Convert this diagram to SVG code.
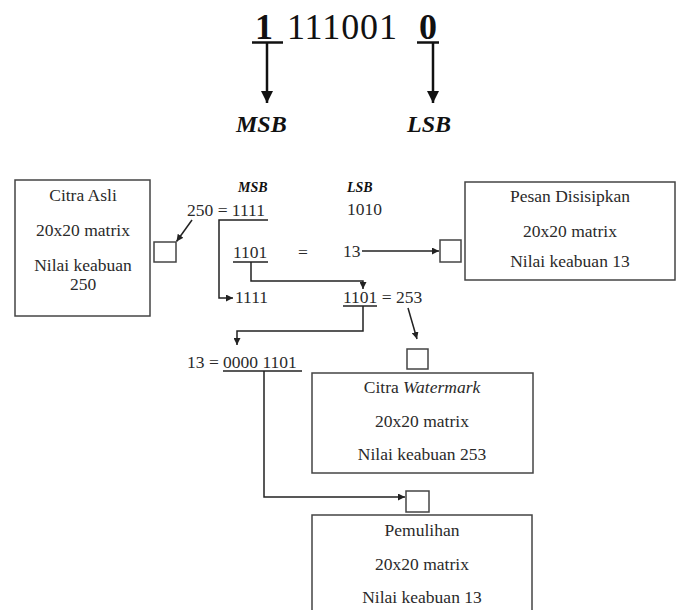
<svg xmlns="http://www.w3.org/2000/svg" width="677" height="610" viewBox="0 0 677 610">
<defs>
<style>
.t{font-family:"Liberation Serif","Times New Roman",serif;font-size:17.5px;fill:#2a2a2a}
.c{text-anchor:middle}
.big{font-family:"Liberation Serif",serif;font-size:36px;fill:#111}
.lab{font-family:"Liberation Serif",serif;font-weight:bold;font-style:italic;fill:#111}
.box{fill:#fff;stroke:#444;stroke-width:1.5}
.sq{fill:#fff;stroke:#444;stroke-width:1.5}
.ln{fill:none;stroke:#222;stroke-width:1.5}
.thick{fill:none;stroke:#111;stroke-width:2.5}
</style>
<marker id="ah" viewBox="0 0 10 10" refX="10" refY="5" markerWidth="7" markerHeight="7" markerUnits="userSpaceOnUse" orient="auto">
<path d="M0,0 L10,5 L0,10 z" fill="#222"/>
</marker>
<marker id="ahb" viewBox="0 0 10 10" refX="10" refY="5" markerWidth="13" markerHeight="12" markerUnits="userSpaceOnUse" orient="auto">
<path d="M0,0 L10,5 L0,10 z" fill="#111"/>
</marker>
</defs>

<g id="top-bits">
<text class="big" x="255" y="39" font-weight="bold">1</text>
<text class="big" x="287" y="39" textLength="110" lengthAdjust="spacing">111001</text>
<text class="big" x="419" y="39" font-weight="bold">0</text>
<line x1="252" y1="42.5" x2="283" y2="42.5" stroke="#111" stroke-width="2.5"/>
<line x1="417" y1="42.5" x2="439" y2="42.5" stroke="#111" stroke-width="2.5"/>
<text class="lab" x="236" y="132" font-size="24">MSB</text>
<text class="lab" x="407" y="132" font-size="24">LSB</text>
</g>

<g id="citra-asli">
<rect class="box" x="15" y="180" width="135" height="136"/>
<text class="t c" x="83" y="201">Citra Asli</text>
<text class="t c" x="83" y="236">20x20 matrix</text>
<text class="t c" x="83" y="271">Nilai keabuan</text>
<text class="t c" x="83" y="290">250</text>
</g>
<g id="sq-asli"><rect class="sq" x="154" y="242" width="22" height="20"/></g>

<g id="pesan">
<rect class="box" x="465" y="182" width="210" height="98"/>
<text class="t c" x="570" y="202">Pesan Disisipkan</text>
<text class="t c" x="570" y="237">20x20 matrix</text>
<text class="t c" x="570" y="267">Nilai keabuan 13</text>
</g>
<g id="sq-pesan"><rect class="sq" x="440" y="240" width="21" height="22"/></g>

<g id="watermark">
<rect class="box" x="312" y="373" width="221" height="100"/>
<text class="t c" x="422" y="393">Citra <tspan font-style="italic">Watermark</tspan></text>
<text class="t c" x="422" y="427">20x20 matrix</text>
<text class="t c" x="422" y="460">Nilai keabuan 253</text>
</g>
<g id="sq-watermark"><rect class="sq" x="407" y="349" width="21" height="20"/></g>

<g id="pemulihan">
<rect class="box" x="312" y="515" width="220" height="100"/>
<text class="t c" x="422" y="536">Pemulihan</text>
<text class="t c" x="422" y="570">20x20 matrix</text>
<text class="t c" x="422" y="603">Nilai keabuan 13</text>
</g>
<g id="sq-pemulihan"><rect class="sq" x="406" y="491" width="23" height="21"/></g>

<g id="calc">
<text class="lab" x="238" y="192" font-size="14">MSB</text>
<text class="lab" x="347" y="192" font-size="14">LSB</text>
<text class="t" x="187" y="216">250 = 1111</text>
<text class="t" x="347" y="215">1010</text>
<text class="t" x="233" y="258">1101</text>
<line class="ln" x1="233" y1="262" x2="268" y2="262"/>
<text class="t" x="298" y="258">=</text>
<text class="t" x="343" y="257">13</text>
<text class="t" x="235" y="303">1111</text>
<text class="t" x="343" y="303">1101 = 253</text>
<line class="ln" x1="343" y1="306" x2="377" y2="306"/>
<text class="t" x="187" y="368">13 = 0000 1101</text>
<line class="ln" x1="223" y1="371" x2="302" y2="371"/>
</g>

<g id="connectors">
<line class="thick" x1="267" y1="43" x2="267" y2="103" marker-end="url(#ahb)"/>
<line class="thick" x1="433" y1="43" x2="433" y2="103" marker-end="url(#ahb)"/>
<line class="ln" x1="192" y1="220" x2="176.5" y2="241.5" marker-end="url(#ah)"/>
<path class="ln" d="M268,220 H219 V298 H233" marker-end="url(#ah)"/>
<line class="ln" x1="362" y1="251" x2="439" y2="251" marker-end="url(#ah)"/>
<path class="ln" d="M251,262 V281 H363 V289" marker-end="url(#ah)"/>
<line class="ln" x1="408" y1="308" x2="417" y2="339" marker-end="url(#ah)"/>
<path class="ln" d="M363,306 V331 H237 V345" marker-end="url(#ah)"/>
<path class="ln" d="M264,371 V497 H405" marker-end="url(#ah)"/>
</g>
</svg>
